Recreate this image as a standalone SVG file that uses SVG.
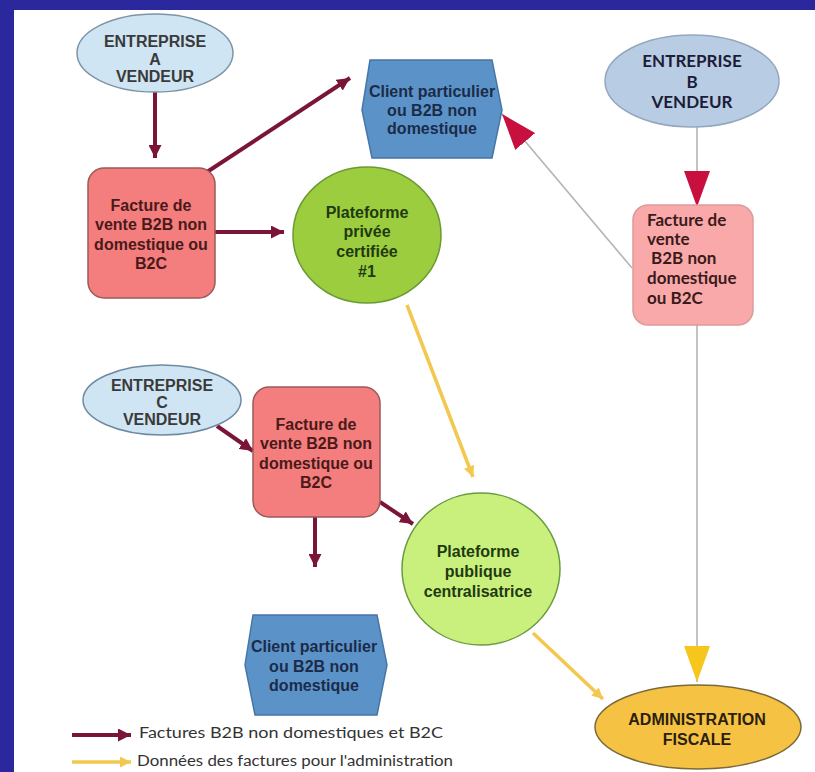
<svg xmlns="http://www.w3.org/2000/svg" width="815" height="772" viewBox="0 0 815 772">
<defs>
<style>
.t{font-family:"Liberation Sans",Arial,sans-serif;font-weight:bold;font-size:16px;text-anchor:middle}
.c{font-family:Lato,"Open Sans",sans-serif;font-weight:bold;font-size:17px}
.mar{stroke:#7b1537;stroke-width:4;fill:none}
.yel{stroke:#f2c84e;stroke-width:3.5;fill:none}
.gry{stroke:#b4b4b4;stroke-width:1.6;fill:none}
.fact{fill:#f47d7d;stroke:#9a5a5a;stroke-width:1.5}
.hex{fill:#5b93c9;stroke:#4676a6;stroke-width:1.5}
</style>
<marker id="am" viewBox="0 0 12 12" markerWidth="13" markerHeight="13" refX="12" refY="6" orient="auto" markerUnits="userSpaceOnUse"><path d="M0,0 L12,6 L0,12 z" fill="#7b1537"/></marker>
<marker id="ay" viewBox="0 0 12 12" markerWidth="11" markerHeight="11" refX="12" refY="6" orient="auto" markerUnits="userSpaceOnUse"><path d="M0,0 L12,6 L0,12 z" fill="#f2c84e"/></marker>
<marker id="ar" viewBox="0 0 36 26" markerWidth="36" markerHeight="26" refX="36" refY="13" orient="auto" markerUnits="userSpaceOnUse"><path d="M0,0 L36,13 L0,26 z" fill="#c8103f"/></marker>
<marker id="ag" viewBox="0 0 36 26" markerWidth="36" markerHeight="26" refX="36" refY="13" orient="auto" markerUnits="userSpaceOnUse"><path d="M0,0 L36,13 L0,26 z" fill="#f7c61c"/></marker>
</defs>
<rect x="0" y="0" width="815" height="772" fill="#2a289c"/>
<rect x="14" y="10" width="801" height="762" fill="#ffffff"/>

<g id="connectors">
<line class="mar" x1="155" y1="92" x2="155" y2="158" marker-end="url(#am)"/>
<line class="mar" x1="207" y1="172" x2="350" y2="78" marker-end="url(#am)"/>
<line class="mar" x1="215" y1="232" x2="284" y2="232" marker-end="url(#am)"/>
<line class="gry" x1="697" y1="127" x2="697" y2="207" marker-end="url(#ar)"/>
<line class="gry" x1="632" y1="268" x2="502" y2="114" marker-end="url(#ar)"/>
<line class="gry" x1="697" y1="325" x2="697" y2="682" marker-end="url(#ag)"/>
<line class="yel" x1="407" y1="305" x2="473" y2="477" marker-end="url(#ay)"/>
<line class="mar" x1="217" y1="426" x2="253" y2="451" marker-end="url(#am)"/>
<line class="mar" x1="315" y1="517" x2="315" y2="567" marker-end="url(#am)"/>
<line class="mar" x1="380" y1="502" x2="413" y2="524" marker-end="url(#am)"/>
<line class="yel" x1="533" y1="633" x2="603" y2="699" marker-end="url(#ay)"/>
</g>

<g id="entrepriseA">
<ellipse cx="155" cy="53" rx="78" ry="39" fill="#cfe5f4" stroke="#7f93a6" stroke-width="1.5"/>
<text class="t" fill="#3a3a3a"><tspan x="155" y="47">ENTREPRISE</tspan><tspan x="155" y="65">A</tspan><tspan x="155" y="82">VENDEUR</tspan></text>
</g>

<g id="factureA">
<rect class="fact" x="88" y="168" width="127" height="130" rx="16"/>
<text class="t" fill="#4a1a1a"><tspan x="151" y="211">Facture de</tspan><tspan x="151" y="230">vente B2B non</tspan><tspan x="151" y="250">domestique ou</tspan><tspan x="151" y="269">B2C</tspan></text>
</g>

<g id="clientTop">
<polygon class="hex" points="370,60 492,60 502,110 492,158 372,158 362,110"/>
<text class="t" fill="#1b2b48"><tspan x="432" y="97">Client particulier</tspan><tspan x="432" y="116">ou B2B non</tspan><tspan x="432" y="134">domestique</tspan></text>
</g>

<g id="plateformePrivee">
<ellipse cx="367" cy="235" rx="74" ry="68" fill="#9ccd3e" stroke="#6a9a34" stroke-width="1.5"/>
<text class="t" fill="#1f3a12"><tspan x="367" y="218">Plateforme</tspan><tspan x="367" y="237">privée</tspan><tspan x="367" y="257">certifiée</tspan><tspan x="367" y="277">#1</tspan></text>
</g>

<g id="entrepriseB">
<ellipse cx="692" cy="81" rx="87" ry="46" fill="#b8cce4" stroke="#93a7bf" stroke-width="1.5"/>
<text class="c" fill="#1c1c38" text-anchor="middle"><tspan x="692" y="67">ENTREPRISE</tspan><tspan x="692" y="88">B</tspan><tspan x="692" y="108">VENDEUR</tspan></text>
</g>

<g id="factureB">
<rect x="633" y="205" width="120" height="120" rx="15" fill="#f9a9a9" stroke="#dd9a9a" stroke-width="1.5"/>
<text class="c" fill="#3a1a1a"><tspan x="647" y="226">Facture de</tspan><tspan x="647" y="245">vente</tspan><tspan x="651" y="264">B2B non</tspan><tspan x="647" y="284">domestique</tspan><tspan x="647" y="304">ou B2C</tspan></text>
</g>

<g id="entrepriseC">
<ellipse cx="162" cy="400" rx="79" ry="35" fill="#cfe5f4" stroke="#6f8aa0" stroke-width="1.5"/>
<text class="t" fill="#3a3a3a"><tspan x="162" y="391">ENTREPRISE</tspan><tspan x="162" y="408">C</tspan><tspan x="162" y="425">VENDEUR</tspan></text>
</g>

<g id="factureC">
<rect class="fact" x="253" y="387" width="127" height="130" rx="16"/>
<text class="t" fill="#4a1a1a"><tspan x="316" y="430">Facture de</tspan><tspan x="316" y="449">vente B2B non</tspan><tspan x="316" y="469">domestique ou</tspan><tspan x="316" y="488">B2C</tspan></text>
</g>

<g id="plateformePublique">
<ellipse cx="481" cy="569" rx="79" ry="76" fill="#c9f07c" stroke="#6a9a40" stroke-width="1.5"/>
<text class="t" fill="#1f3a12"><tspan x="478" y="557">Plateforme</tspan><tspan x="478" y="577">publique</tspan><tspan x="478" y="597">centralisatrice</tspan></text>
</g>

<g id="clientBottom">
<polygon class="hex" points="253,615 377,615 387,665 377,715 255,715 245,665"/>
<text class="t" fill="#1b2b48"><tspan x="314" y="652">Client particulier</tspan><tspan x="314" y="672">ou B2B non</tspan><tspan x="314" y="691">domestique</tspan></text>
</g>

<g id="administration">
<ellipse cx="698" cy="727" rx="103" ry="42" fill="#f6c243" stroke="#7a6a3a" stroke-width="1.5"/>
<text class="t" fill="#2a2010"><tspan x="697" y="725">ADMINISTRATION</tspan><tspan x="697" y="745">FISCALE</tspan></text>
</g>

<g id="legend">
<line class="mar" x1="72" y1="735" x2="131" y2="735" marker-end="url(#am)"/>
<text x="139" y="738" font-family="Lato,'Open Sans',sans-serif" font-size="15.5" fill="#333" textLength="304" lengthAdjust="spacingAndGlyphs">Factures B2B non domestiques et B2C</text>
<line class="yel" x1="72" y1="762" x2="131" y2="762" marker-end="url(#ay)"/>
<text x="137" y="766" font-family="Lato,'Open Sans',sans-serif" font-size="15.5" fill="#333" textLength="316" lengthAdjust="spacingAndGlyphs">Données des factures pour l'administration</text>
</g>
</svg>
